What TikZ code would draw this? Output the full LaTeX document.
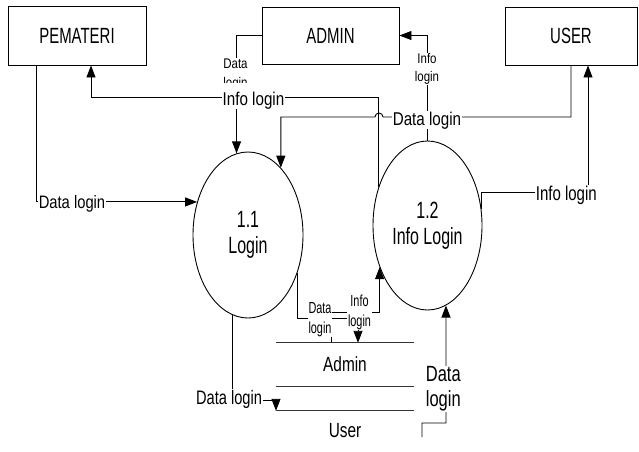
\documentclass[tikz,border=0pt]{standalone}
\usepackage{fontspec}
\setmainfont{Liberation Sans}
\newfontfamily\fA{Liberation Sans}[FakeStretch=0.68]
\newfontfamily\fB{Liberation Sans}[FakeStretch=0.82]
\newfontfamily\fC{Liberation Sans}[FakeStretch=0.75]
\usetikzlibrary{arrows.meta,shapes.geometric,backgrounds}
\newcommand\twol[2]{\vtop{\halign{\hfil##\hfil\cr#1\cr#2\cr}}}
\tikzset{
  ln/.style={line width=0.9pt},
  arr/.style={ln,-{Triangle[length=12pt,width=9pt]}},
  ent/.style={draw,line width=0.9pt,inner sep=0pt,font=\fA\fontsize{22}{24}\selectfont},
  proc/.style={ellipse,draw,line width=0.9pt,inner sep=0pt,align=center,font=\fA\fontsize{23.5}{26}\selectfont},
  store/.style={inner sep=0pt,minimum width=138pt,font=\fC\fontsize{20.5}{22}\selectfont},
  lbl/.style={fill=white,inner sep=0.6pt,anchor=base},
  storeline/.style={line width=0.9pt,black!80}
}
\begin{document}
\begin{tikzpicture}[x=1pt,y=-1pt]
\useasboundingbox (0,0) rectangle (639,451);
% entities
\node[ent,minimum width=138pt,minimum height=59pt] (pem) at (77,35.5) {PEMATERI};
\node[ent,minimum width=137pt,minimum height=57pt] (adm) at (330.5,35.5) {ADMIN};
\node[ent,minimum width=132pt,minimum height=58pt] (usr) at (571,36) {USER};
% processes
\node[proc,minimum width=110pt,minimum height=166pt] (p11) at (248,235) {1.1\\Login};
\node[proc,minimum width=109pt,minimum height=169pt] (p12) at (427.5,225.5) {1.2\\Info Login};
% data stores
\node[store,minimum height=43pt] (sa) at (345,364.5) {Admin};
\node[store,minimum height=40pt] (su) at (345,431) {User};
\draw[storeline] (sa.north west) -- (sa.north east);
\draw[storeline] (sa.south west) -- (sa.south east);
\draw[storeline] (su.north west) -- (su.north east);
\coordinate (c9) at (422,437);
% labels
\node[lbl,font=\fB\fontsize{18}{20}\selectfont] (l1) at (72,208) {Data login};
\node[lbl,font=\fB\fontsize{14}{18.4}\selectfont] (l5) at (427,63.3) {\twol{Info}{login}};
\node[lbl,font=\fB\fontsize{14}{19.2}\selectfont] (l4) at (235.5,68.3) {\twol{Data}{login}};
\node[lbl,font=\fB\fontsize{18.5}{20}\selectfont,text height=21.5pt] (l2) at (253.5,105) {Info login};
\node[lbl,font=\fB\fontsize{18.5}{20}\selectfont] (l3) at (427,125) {Data login};
\node[lbl,font=\fC\fontsize{20}{22}\selectfont] (l6) at (566.3,200) {Info login};
\node[lbl,font=\fA\fontsize{16}{20}\selectfont] (l7) at (320,313) {\twol{Data}{login}};
\node[lbl,font=\fA\fontsize{16}{19.3}\selectfont] (l8) at (359.5,306.7) {\twol{Info}{login}};
\node[lbl,font=\fC\fontsize{19.5}{22}\selectfont] (l9) at (229,404) {Data login};
\node[lbl,font=\fC\fontsize{22}{25}\selectfont] (l10) at (443.3,381.7) {\twol{Data}{login}};
% connectors
\begin{pgfonlayer}{background}
\draw[arr] ([xshift=-41pt]pem.south) |- (p11.147);
\draw[arr] (p12.142) |- (91,97) -- (pem.south -| 91,0);
\draw[arr] (adm.west) -| (p11.98);
\draw[arr] (usr.south) |- (383,117) arc[start angle=0,end angle=180,radius=4pt] -| (p11.64);
\draw[arr] (p12.north) |- (adm.east);
\draw[arr] (p12.17) |- (588,192) -- (usr.south -| 588,0);
\draw[arr] (p11.-38) |- (358,318) -- (sa.north -| 358,0);
\draw[arr] (sa.north -| 331,0) -- (331,312) -| (p12.-139);
\draw[arr] (p11.-101) |- (276,400) -- (su.north -| 276,0);
\draw[arr] (c9) |- (446,423) -- (p12.-77);
\end{pgfonlayer}
\end{tikzpicture}
\end{document}
